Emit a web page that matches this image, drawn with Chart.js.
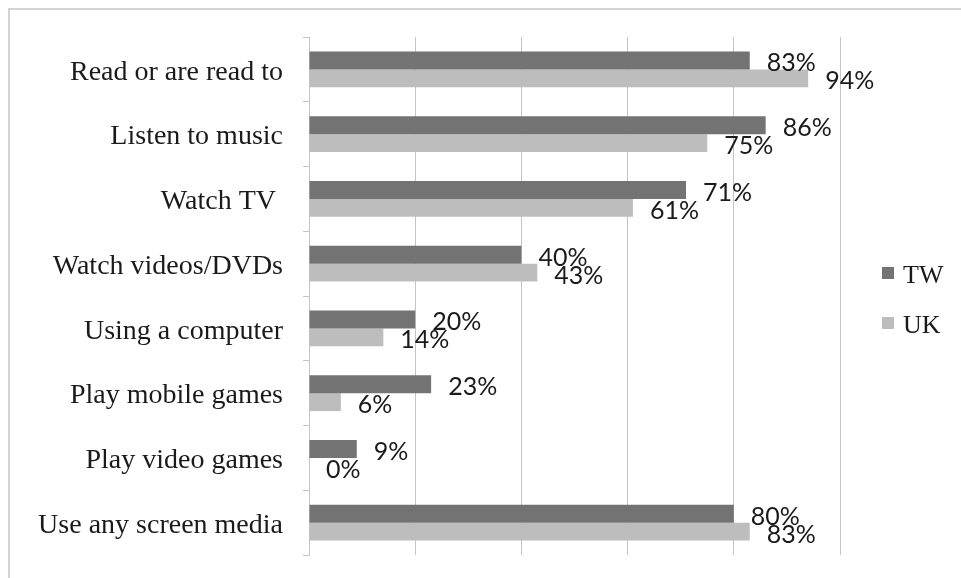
<!DOCTYPE html>
<html>
<head>
<meta charset="utf-8">
<script src="https://cdn.jsdelivr.net/npm/chart.js@4/dist/chart.umd.min.js"></script>
<style>
  html, body { margin: 0; padding: 0; background: #ffffff; }
  #wrap { width: 961px; height: 578px; position: relative; }
</style>
</head>
<body>
<div id="wrap"><canvas id="chart" width="961" height="578"></canvas></div>
<script>
// Activities of young children, share by country (%)
const categories = [
  'Read or are read to',
  'Listen to music',
  'Watch TV ',
  'Watch videos/DVDs',
  'Using a computer',
  'Play mobile games',
  'Play video games',
  'Use any screen media'
];
const seriesNames = ['TW', 'UK'];
const twValues = [83, 86, 71, 40, 20, 23, 9, 80];
const ukValues = [94, 75, 61, 43, 14, 6, 0, 83];
const seriesColors = ['#737373', '#bdbdbd'];

const SERIF = '"Liberation Serif", "Times New Roman", serif';
const SANS = 'Lato, "Open Sans", sans-serif';

// Light frame around the whole figure
const framePlugin = {
  id: 'frame',
  beforeDraw(chart) {
    const ctx = chart.ctx;
    ctx.save();
    ctx.fillStyle = '#ffffff';
    ctx.fillRect(0, 0, chart.width, chart.height);
    ctx.strokeStyle = '#d4d4d4';
    ctx.lineWidth = 2;
    ctx.strokeRect(9, 9, chart.width + 20, chart.height + 20);
    ctx.restore();
  }
};

// Percentage labels just past the end of each bar
const valueLabelPlugin = {
  id: 'valueLabels',
  afterDatasetsDraw(chart) {
    const ctx = chart.ctx;
    ctx.save();
    ctx.font = '25px ' + SANS;
    ctx.fillStyle = '#1a1a1a';
    ctx.textAlign = 'left';
    ctx.textBaseline = 'middle';
    chart.data.datasets.forEach((ds, di) => {
      const meta = chart.getDatasetMeta(di);
      meta.data.forEach((bar, i) => {
        ctx.fillText(ds.data[i] + '%', bar.x + 17, bar.y + 3);
      });
    });
    ctx.restore();
  }
};

// Legend on the right, one row per series
const sideLegendPlugin = {
  id: 'sideLegend',
  afterDraw(chart) {
    const ctx = chart.ctx;
    const x0 = 882;
    const rows = [275, 325];
    ctx.save();
    ctx.font = '26px ' + SERIF;
    ctx.textAlign = 'left';
    ctx.textBaseline = 'middle';
    chart.data.datasets.forEach((ds, di) => {
      const cy = rows[di];
      ctx.fillStyle = ds.backgroundColor;
      ctx.fillRect(x0, cy - 8, 12, 12);
      ctx.fillStyle = '#1a1a1a';
      ctx.fillText(ds.label, x0 + 21, cy + 1);
    });
    ctx.restore();
  }
};

new Chart(document.getElementById('chart'), {
  type: 'bar',
  data: {
    labels: categories,
    datasets: [
      { label: seriesNames[0], data: twValues, backgroundColor: seriesColors[0] },
      { label: seriesNames[1], data: ukValues, backgroundColor: seriesColors[1] }
    ]
  },
  options: {
    indexAxis: 'y',
    responsive: false,
    animation: false,
    devicePixelRatio: 1,
    layout: { padding: { left: 0, top: 37, right: 121, bottom: 23 } },
    datasets: {
      bar: { barPercentage: 1.0, categoryPercentage: 0.555 }
    },
    plugins: {
      legend: { display: false },
      tooltip: { enabled: false }
    },
    scales: {
      x: {
        min: 0,
        max: 100,
        ticks: { display: false, stepSize: 20 },
        grid: { color: '#c4c4c4', lineWidth: 1, drawTicks: false },
        border: { display: false },
        afterFit(scale) {
          scale.height = 0;
          scale.paddingLeft = 0;
          scale.paddingRight = 0;
        }
      },
      y: {
        ticks: {
          color: '#1a1a1a',
          padding: 20,
          labelOffset: 3,
          font: { family: SERIF, size: 28 }
        },
        grid: {
          drawOnChartArea: false,
          drawTicks: true,
          tickLength: 6,
          color: '#c4c4c4'
        },
        border: { display: true, color: '#c4c4c4', width: 1 },
        afterFit(scale) {
          scale.width = 309;
          scale.paddingTop = 0;
          scale.paddingBottom = 0;
        }
      }
    }
  },
  plugins: [framePlugin, valueLabelPlugin, sideLegendPlugin]
});
</script>
</body>
</html>
